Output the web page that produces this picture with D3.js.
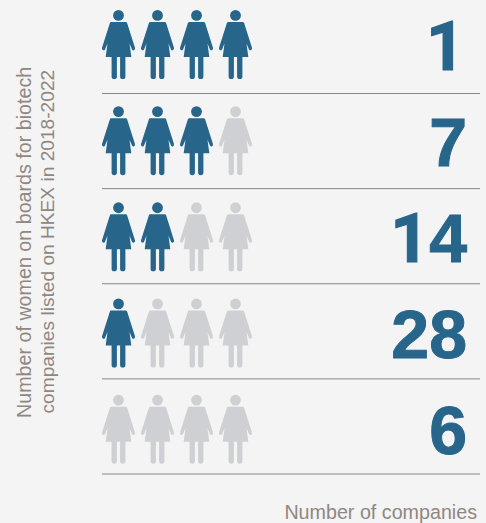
<!DOCTYPE html>
<html><head><meta charset="utf-8">
<style>html,body{margin:0;padding:0;background:#f4f4f4}svg{display:block}text{font-family:"Liberation Sans",Arial,sans-serif}</style>
<script src="https://cdn.jsdelivr.net/npm/d3@7/dist/d3.min.js"></script></head><body>
<script>
const womenOnBoard = [4, 3, 2, 1, 0];
const companies = [1, 7, 14, 28, 6];
const seats = [0, 1, 2, 3];
const yTitle = ["Number of women on boards for biotech", "companies listed on HKEX in 2018-2022"];
const xTitle = "Number of companies";
const W = 486, H = 523;
const dark = "#27658a", light = "#cfd0d3", rule = "#8f8580", grey = "#8f8781";
const svg = d3.select("body").append("svg").attr("width", W).attr("height", H);
svg.append("rect").attr("width", W).attr("height", H).attr("fill", "#f4f4f4");
const idx = d3.range(companies.length);
const yRule = d3.scalePoint().domain(idx).range([93.5, 474]);
const yFig = d3.scalePoint().domain(idx).range([22, 406.7]);
const yNum = d3.scalePoint().domain(idx).range([70, 453.6]);
const x = d3.scaleBand().domain(seats).range([99, 255]);
const person = "M-7.4 0 H7.4 Q8.2 0 8.6 1 L16.4 25.6 Q17 27.5 15.5 28.2 Q14.2 28.6 13.5 27.4 L11 21.5 L12.8 35 H6.9 V54.4 Q6.9 57 4.3 57 Q1.6 57 1.6 54.4 V35 H-1.6 V54.4 Q-1.6 57 -4.3 57 Q-6.9 57 -6.9 54.4 V35 H-12.8 L-11 21.5 L-13.5 27.4 Q-14.2 28.6 -15.5 28.2 Q-17 27.5 -16.4 25.6 L-8.6 1 Q-8.2 0 -7.4 0 Z";
idx.forEach(i => {
  svg.append("line").attr("x1", 102).attr("x2", 480).attr("y1", yRule(i)).attr("y2", yRule(i))
    .attr("stroke", rule).attr("stroke-width", 1);
  const t = svg.append("text").attr("x", i === 0 ? 465 : 467).attr("y", yNum(i)).attr("text-anchor", "end")
    .attr("font-size", 68).attr("font-weight", 700).attr("fill", dark).attr("stroke", dark).attr("stroke-width", 1);
  String(companies[i]).split("").forEach(c => {
    t.append("tspan").style("font-family", c === "1" ? "Roboto" : "Liberation Sans").text(c);
  });
  const fig = svg.selectAll("g.p" + i).data(seats).join("g").attr("class", "p" + i)
    .attr("transform", s => `translate(${x(s) + x.bandwidth() / 2},${yFig(i)})`)
    .attr("fill", s => s < womenOnBoard[i] ? dark : light);
  fig.append("circle").attr("cy", -6.6).attr("r", 5.4);
  fig.append("path").attr("d", person);
});
svg.append("text").attr("transform", "translate(31,418) rotate(-90)").attr("font-size", 19.7).attr("fill", grey).text(yTitle[0]);
svg.append("text").attr("transform", "translate(54,413.5) rotate(-90)").attr("font-size", 19.15).attr("fill", grey).text(yTitle[1]);
svg.append("text").attr("x", 477).attr("y", 519).attr("text-anchor", "end").attr("font-size", 19.7).attr("fill", grey).text(xTitle);
</script></body></html>
